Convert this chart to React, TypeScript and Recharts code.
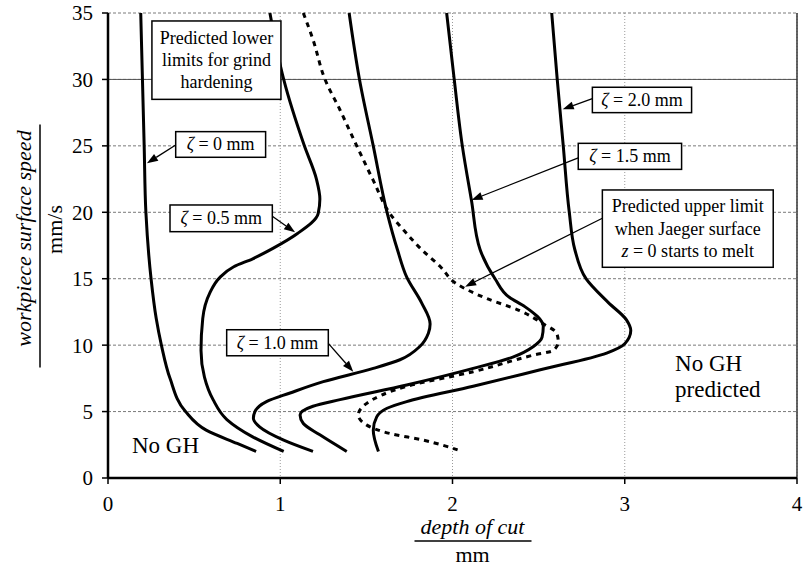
import React from 'react';
import {
  LineChart,
  Line,
  XAxis,
  YAxis,
  CartesianGrid,
  ReferenceArea,
  ReferenceLine,
  ReferenceDot,
} from 'recharts';

const SERIF = '"Liberation Serif", "Times New Roman", serif';

type Pt = { x: number; y: number };

// depth of cut (mm) vs workpiece speed (mm/s), top to bottom
const zeta0: Pt[] = [
  { x: 0.19, y: 35 }, { x: 0.2, y: 30 }, { x: 0.21, y: 25 }, { x: 0.22, y: 20 },
  { x: 0.25, y: 15 }, { x: 0.28, y: 12 }, { x: 0.31, y: 10 }, { x: 0.36, y: 7.5 },
  { x: 0.45, y: 5 }, { x: 0.57, y: 3.6 }, { x: 0.75, y: 2.6 }, { x: 0.86, y: 2 },
];

const zeta05: Pt[] = [
  { x: 0.94, y: 35 }, { x: 1.02, y: 30 }, { x: 1.14, y: 25 }, { x: 1.21, y: 22.5 },
  { x: 1.23, y: 21 }, { x: 1.22, y: 19.9 }, { x: 1.1, y: 18.4 }, { x: 0.96, y: 17.3 },
  { x: 0.84, y: 16.5 }, { x: 0.73, y: 15.9 }, { x: 0.65, y: 15.1 }, { x: 0.59, y: 13.9 },
  { x: 0.55, y: 12 }, { x: 0.54, y: 9.6 }, { x: 0.56, y: 7.6 }, { x: 0.61, y: 5.9 },
  { x: 0.69, y: 4.4 }, { x: 0.84, y: 3.1 }, { x: 1.02, y: 2 },
];

const zeta10: Pt[] = [
  { x: 1.4, y: 35 }, { x: 1.46, y: 30 }, { x: 1.54, y: 25 }, { x: 1.62, y: 20 },
  { x: 1.68, y: 17.2 }, { x: 1.735, y: 15.1 }, { x: 1.82, y: 13.2 }, { x: 1.87, y: 11.6 },
  { x: 1.86, y: 10.9 }, { x: 1.81, y: 9.9 }, { x: 1.695, y: 8.9 }, { x: 1.54, y: 8.25 },
  { x: 1.25, y: 7.25 }, { x: 1.057, y: 6.4 }, { x: 0.92, y: 5.75 }, { x: 0.853, y: 5 },
  { x: 0.844, y: 4.5 }, { x: 0.88, y: 3.85 }, { x: 1.02, y: 2.85 }, { x: 1.19, y: 2 },
];

const zeta15: Pt[] = [
  { x: 1.966, y: 35 }, { x: 2.01, y: 30 }, { x: 2.057, y: 25 }, { x: 2.11, y: 20.9 },
  { x: 2.16, y: 17.2 }, { x: 2.247, y: 15 }, { x: 2.33, y: 13.6 }, { x: 2.42, y: 12.9 },
  { x: 2.527, y: 11.4 }, { x: 2.52, y: 10.6 }, { x: 2.47, y: 9.9 }, { x: 2.35, y: 9.1 },
  { x: 2.12, y: 8.25 }, { x: 1.734, y: 7 }, { x: 1.347, y: 5.9 }, { x: 1.19, y: 5.4 },
  { x: 1.115, y: 4.75 }, { x: 1.134, y: 4.1 }, { x: 1.23, y: 3.25 }, { x: 1.386, y: 2 },
];

const zeta20: Pt[] = [
  { x: 2.576, y: 35 }, { x: 2.608, y: 30 }, { x: 2.643, y: 25 }, { x: 2.678, y: 20 },
  { x: 2.71, y: 17.2 }, { x: 2.775, y: 15 }, { x: 2.905, y: 13.2 }, { x: 3.01, y: 11.9 },
  { x: 3.035, y: 11.1 }, { x: 3.0, y: 10.1 }, { x: 2.895, y: 9.4 }, { x: 2.51, y: 8.15 },
  { x: 2.12, y: 6.9 }, { x: 1.734, y: 5.75 }, { x: 1.62, y: 5.25 }, { x: 1.56, y: 4.6 },
  { x: 1.54, y: 3.6 }, { x: 1.57, y: 2 },
];

const upperLimit: Pt[] = [
  { x: 1.134, y: 35 }, { x: 1.19, y: 33 }, { x: 1.26, y: 30 }, { x: 1.347, y: 27.7 },
  { x: 1.444, y: 25 }, { x: 1.54, y: 22.4 }, { x: 1.637, y: 19.9 }, { x: 1.734, y: 18.4 },
  { x: 1.82, y: 17.2 }, { x: 1.93, y: 15.9 }, { x: 2.02, y: 14.65 }, { x: 2.2, y: 13.5 },
  { x: 2.39, y: 12.6 }, { x: 2.527, y: 11.6 }, { x: 2.605, y: 10.9 }, { x: 2.614, y: 10.25 },
  { x: 2.585, y: 9.6 }, { x: 2.47, y: 9.25 }, { x: 2.12, y: 8 }, { x: 1.734, y: 6.9 },
  { x: 1.5, y: 5.6 }, { x: 1.453, y: 4.75 }, { x: 1.5, y: 4 }, { x: 1.637, y: 3.35 },
  { x: 1.83, y: 2.85 }, { x: 2.034, y: 2.1 },
];

const xTicks = [0, 1, 2, 3, 4];
const yTicks = [0, 5, 10, 15, 20, 25, 30, 35];

const zetaLabels = ['0', '0.5', '1.0', '1.5', '2.0'];

const z = (v: string) => [
  <tspan key="a" fontStyle="italic">ζ</tspan>,
  <tspan key="b">{` = ${v} mm`}</tspan>,
];

const boxShape = (lines: React.ReactNode[], lineH = 22) => (p: any) => {
  const { x, y, width, height } = p;
  const cx = x + width / 2;
  const cy = y + height / 2;
  return (
    <g>
      <rect x={x} y={y} width={width} height={height} fill="#fff" stroke="#000" strokeWidth={1.5} />
      {lines.map((ln, i) => (
        <text
          key={i}
          x={cx}
          y={cy + (i - (lines.length - 1) / 2) * lineH + 6}
          textAnchor="middle"
          fontSize={18}
          fontFamily={SERIF}
          fill="#000"
        >
          {ln}
        </text>
      ))}
    </g>
  );
};

const arrowShape = (p: any) => {
  const { x1, y1, x2, y2 } = p;
  const a = Math.atan2(y2 - y1, x2 - x1);
  const len = 11;
  const w = 4;
  const bx = x2 - len * Math.cos(a);
  const by = y2 - len * Math.sin(a);
  const pts = [
    `${x2},${y2}`,
    `${bx + w * Math.sin(a)},${by - w * Math.cos(a)}`,
    `${bx - w * Math.sin(a)},${by + w * Math.cos(a)}`,
  ].join(' ');
  return (
    <g>
      <line x1={x1} y1={y1} x2={bx} y2={by} stroke="#000" strokeWidth={1.3} />
      <polygon points={pts} fill="#000" />
    </g>
  );
};

const note = (lines: string[]) => (p: any) => (
  <text x={p.cx} y={p.cy} fontSize={23} fontFamily={SERIF} fill="#000">
    {lines.map((t, i) => (
      <tspan key={i} x={p.cx} dy={i === 0 ? 0 : 26}>{t}</tspan>
    ))}
  </text>
);

const yTitle = (props: any) => {
  const vb = props.viewBox;
  const cy = vb.y + vb.height / 2;
  return (
    <g fontFamily={SERIF} fill="#000">
      <text
        x={vb.x + 31}
        y={cy - 7}
        transform={`rotate(-90 ${vb.x + 31} ${cy - 7})`}
        textAnchor="middle"
        fontSize={22}
        fontStyle="italic"
      >
        workpiece surface speed
      </text>
      <line x1={vb.x + 40} y1={cy - 121} x2={vb.x + 40} y2={cy + 122} stroke="#000" strokeWidth={1.5} />
      <text
        x={vb.x + 62}
        y={cy - 16}
        transform={`rotate(-90 ${vb.x + 62} ${cy - 16})`}
        textAnchor="middle"
        fontSize={22}
      >
        mm/s
      </text>
    </g>
  );
};

const xTitle = (props: any) => {
  const vb = props.viewBox;
  const cx = vb.x + vb.width / 2 + 20;
  return (
    <g fontFamily={SERIF} fill="#000">
      <text x={cx} y={vb.y + 56} textAnchor="middle" fontSize={22} fontStyle="italic">
        depth of cut
      </text>
      <line x1={cx - 58} y1={vb.y + 63} x2={cx + 59} y2={vb.y + 63} stroke="#000" strokeWidth={1.5} />
      <text x={cx} y={vb.y + 84} textAnchor="middle" fontSize={22}>
        mm
      </text>
    </g>
  );
};

const curves = [zeta0, zeta05, zeta10, zeta15, zeta20];

export default function App() {
  return (
    <div style={{ position: 'absolute', left: 0, top: 0, width: 804, height: 583, background: '#fff' }}>
      <LineChart width={804} height={583} margin={{ top: 13, right: 7, left: 0, bottom: 0 }}>
        <CartesianGrid vertical={false} stroke="#7a7a7a" strokeDasharray="3 2" />
        <CartesianGrid horizontal={false} stroke="#9a9a9a" strokeDasharray="1 2" />
        <ReferenceLine y={30} stroke="#555" strokeWidth={1} />
        <ReferenceLine x={4} stroke="#333" strokeWidth={1.5} />
        <XAxis
          type="number"
          dataKey="x"
          domain={[0, 4]}
          ticks={xTicks}
          height={105}
          tickSize={6}
          tickMargin={12}
          axisLine={{ stroke: '#000', strokeWidth: 2.5 }}
          tickLine={{ stroke: '#000', strokeWidth: 1.5 }}
          tick={{ fill: '#000', fontSize: 21, fontFamily: SERIF }}
          label={xTitle}
        />
        <YAxis
          type="number"
          domain={[0, 35]}
          ticks={yTicks}
          width={108}
          tickSize={6}
          tickMargin={9}
          axisLine={{ stroke: '#000', strokeWidth: 2.5 }}
          tickLine={{ stroke: '#000', strokeWidth: 1.5 }}
          tick={{ fill: '#000', fontSize: 21, fontFamily: SERIF }}
          label={yTitle}
        />
        {curves.map((d, i) => (
          <Line
            key={zetaLabels[i]}
            data={d}
            dataKey="y"
            type="monotoneY"
            stroke="#000"
            strokeWidth={3}
            dot={false}
            isAnimationActive={false}
          />
        ))}
        <Line
          data={upperLimit}
          dataKey="y"
          type="monotoneY"
          stroke="#000"
          strokeWidth={3}
          strokeDasharray="5 5"
          dot={false}
          isAnimationActive={false}
        />

        <ReferenceArea
          x1={0.255} x2={1.004} y1={28.5} y2={34.4} zIndex={1000}
          shape={boxShape(['Predicted lower', 'limits for grind', 'hardening'], 21.7)}
        />
        <ReferenceArea x1={0.393} x2={0.915} y1={24.14} y2={26.07} zIndex={1000} shape={boxShape([z(zetaLabels[0])])} />
        <ReferenceArea x1={0.36} x2={0.954} y1={18.54} y2={20.55} zIndex={1000} shape={boxShape([z(zetaLabels[1])])} />
        <ReferenceArea x1={0.689} x2={1.279} y1={9.2} y2={11.16} zIndex={1000} shape={boxShape([z(zetaLabels[2])])} />
        <ReferenceArea x1={2.73} x2={3.33} y1={23.23} y2={25.19} zIndex={1000} shape={boxShape([z(zetaLabels[3])])} />
        <ReferenceArea x1={2.812} x2={3.388} y1={27.5} y2={29.41} zIndex={1000} shape={boxShape([z(zetaLabels[4])])} />
        <ReferenceArea
          x1={2.87} x2={3.862} y1={15.86} y2={21.68} zIndex={1000}
          shape={boxShape([
            'Predicted upper limit',
            'when Jaeger surface',
            [<tspan key="z" fontStyle="italic">z</tspan>, <tspan key="r"> = 0 starts to melt</tspan>],
          ], 22.5)}
        />

        <ReferenceLine segment={[{ x: 0.393, y: 25.06 }, { x: 0.226, y: 23.69 }]} zIndex={1100} shape={arrowShape} />
        <ReferenceLine segment={[{ x: 0.954, y: 19.7 }, { x: 1.086, y: 18.49 }]} zIndex={1100} shape={arrowShape} />
        <ReferenceLine segment={[{ x: 1.279, y: 10.13 }, { x: 1.424, y: 8.0 }]} zIndex={1100} shape={arrowShape} />
        <ReferenceLine segment={[{ x: 2.73, y: 24.1 }, { x: 2.111, y: 20.92 }]} zIndex={1100} shape={arrowShape} />
        <ReferenceLine segment={[{ x: 2.812, y: 28.56 }, { x: 2.64, y: 27.75 }]} zIndex={1100} shape={arrowShape} />
        <ReferenceLine segment={[{ x: 2.87, y: 19.55 }, { x: 2.073, y: 14.4 }]} zIndex={1100} shape={arrowShape} />

        <ReferenceDot x={0.139} y={1.88} r={0} zIndex={1100} shape={note(['No GH'])} />
        <ReferenceDot x={3.292} y={8.07} r={0} zIndex={1100} shape={note(['No GH', 'predicted'])} />
      </LineChart>
    </div>
  );
}
